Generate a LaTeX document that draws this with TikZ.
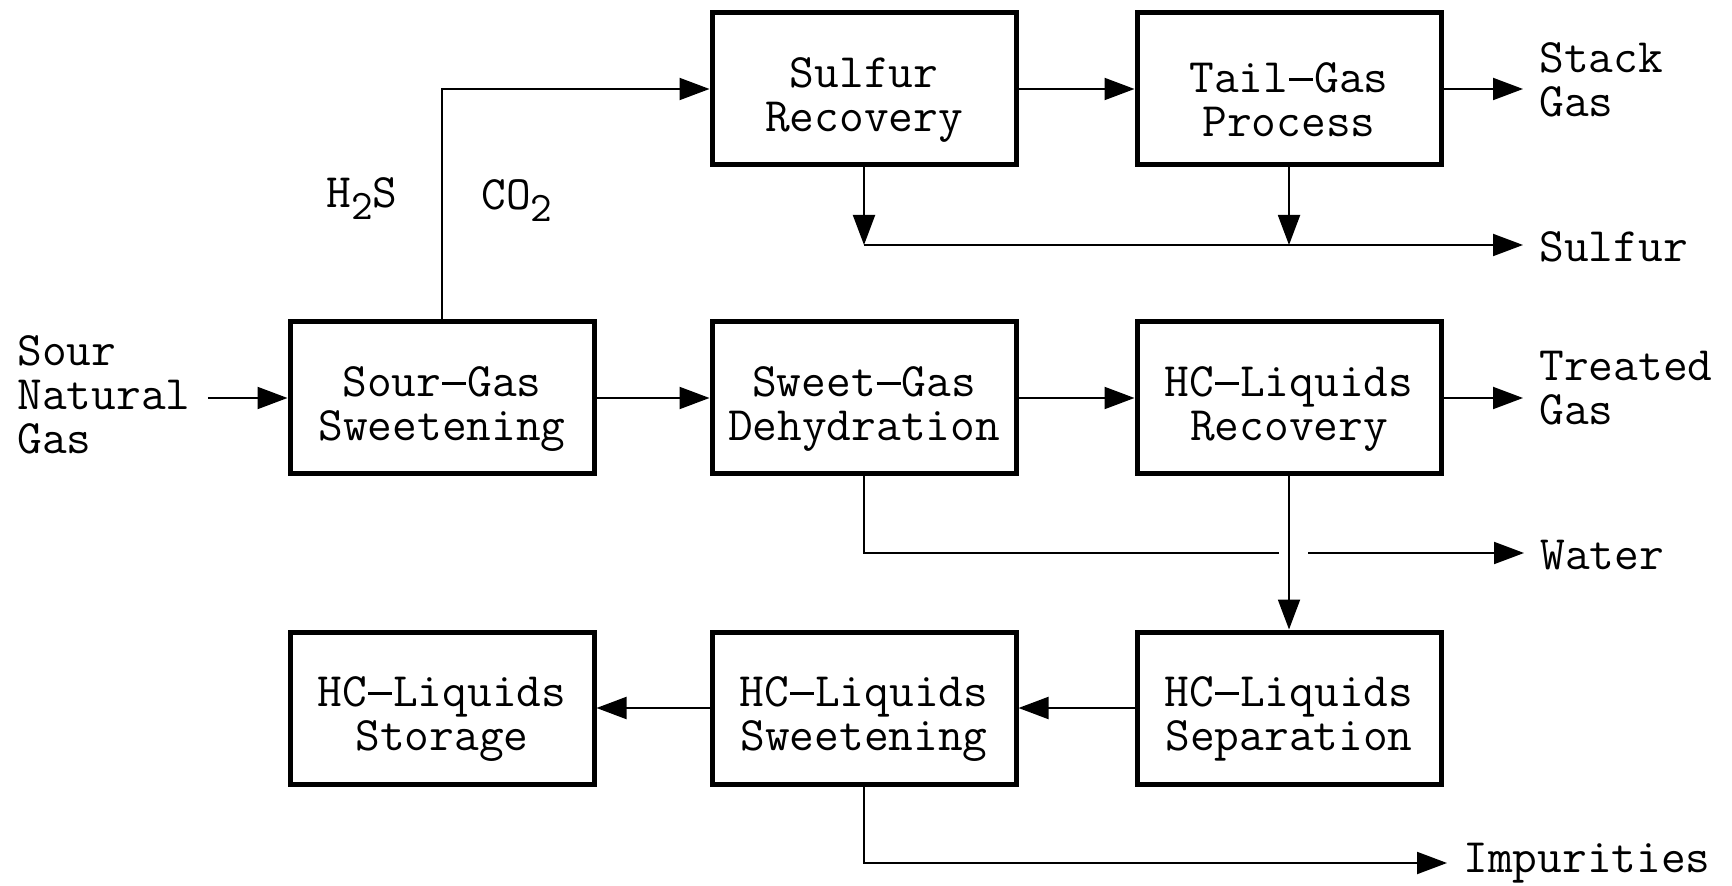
\documentclass[tikz,border=0pt]{standalone}
\usetikzlibrary{arrows.meta,positioning}
\newcommand{\lowsub}[1]{\raisebox{-6pt}{\fontsize{21}{21}\selectfont #1}}
\newcommand{\longdash}{\kern0.02em\rule[0.25em]{0.5em}{1.3pt}\kern0.02em}
\newcommand{\unittext}[2]{\rule{0pt}{26pt}#1\\#2}

\begin{document}
\begin{tikzpicture}[x=0.5pt,y=-0.5pt,
  font=\ttfamily\fontsize{24}{22}\selectfont,
  unit/.style={draw,line width=2.5pt,minimum width=152pt,minimum height=76pt,align=center,inner sep=0pt},
  flow/.style={line width=1pt,-{Triangle[length=15pt,width=11pt]}},
  pipe/.style={line width=1pt},
  lbl/.style={anchor=west,align=left,inner xsep=8pt,inner ysep=0pt}]
\useasboundingbox (0,0) rectangle (1732,886);
% process units
\node[unit] (sulfur) at (864,89) {\unittext{Sulfur}{Recovery}};
\node[unit] (tail) at (1289,89) {\unittext{Tail\longdash Gas}{Process}};
\node[unit] (sour) at (442,398) {\unittext{Sour\longdash Gas}{Sweetening}};
\node[unit] (sweet) at (864,398) {\unittext{Sweet\longdash Gas}{Dehydration}};
\node[unit] (hcrec) at (1289,398) {\unittext{HC\longdash Liquids}{Recovery}};
\node[unit] (store) at (442,708) {\unittext{HC\longdash Liquids}{Storage}};
\node[unit] (hcsweet) at (864,708) {\unittext{HC\longdash Liquids}{Sweetening}};
\node[unit] (hcsep) at (1289,708) {\unittext{HC\longdash Liquids}{Separation}};
% streams in and out
\node[lbl,inner xsep=8.5pt] (feed) at (0,395) {Sour\\Natural\\Gas};
\node[lbl] (stack) at (1523,80) {Stack\\Gas};
\node[lbl] (sulfurout) at (1523,247) {Sulfur};
\node[lbl] (treated) at (1523,388) {Treated\\Gas};
\node[lbl] (water) at (1524,555) {Water};
\node[lbl] (impure) at (1447,863) {Impurities};
\node (h2s) at (362,199) {H\lowsub{2}S};
\node (co2) at (517,201) {CO\lowsub{2}};
\coordinate (sjoin) at (1000,245);
\coordinate (gapl) at (1279,553);
\coordinate (gapr) at (1308,553);
% connectors
\draw[flow] (feed.east |- sour) -- (sour);
\draw[flow] (sour.north) |- (sulfur);
\draw[flow] (sulfur) -- (tail);
\draw[flow] (tail) -- (tail -| stack.west);
\draw[flow] (sulfur.south) -- (sulfur.south |- sjoin);
\draw[flow] (tail.south) -- (tail.south |- sjoin);
\draw[flow] (sulfur.south |- sjoin) -- (sjoin -| sulfurout.west);
\draw[flow] (sour) -- (sweet);
\draw[flow] (sweet) -- (hcrec);
\draw[flow] (hcrec) -- (hcrec -| treated.west);
\draw[pipe] (sweet.south) |- (gapl);
\draw[flow] (gapr) -- (gapr -| water.west);
\draw[flow] (hcrec) -- (hcsep);
\draw[flow] (hcsep) -- (hcsweet);
\draw[flow] (hcsweet) -- (store);
\draw[flow] (hcsweet.south) |- (impure.west);
\end{tikzpicture}
\end{document}
